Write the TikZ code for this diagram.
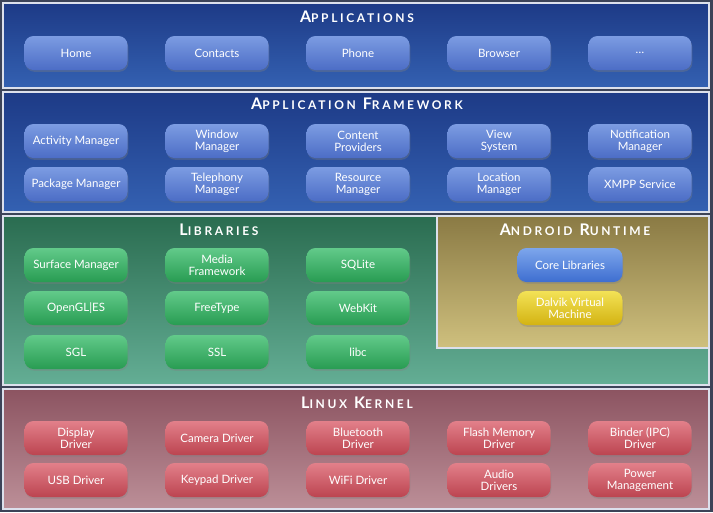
\documentclass[tikz,border=0pt]{standalone}
\usepackage{fontspec}
\setmainfont{Lato}
\newfontfamily\capsfont[LetterSpace=22]{Lato}
\usetikzlibrary{shadows}
\newcommand\layercap[2]{{\fontsize{16}{16}\selectfont #1}{\fontsize{12}{16}\selectfont #2}}

\definecolor{framebg}{HTML}{3C4358}
\definecolor{panelline}{HTML}{DCE0EC}
\definecolor{apptop}{HTML}{1D3A86}
\definecolor{appbot}{HTML}{3461B2}
\definecolor{appboxtop}{HTML}{7C9CE2}
\definecolor{appboxbot}{HTML}{4C6DC6}
\definecolor{libtop}{HTML}{2A6C50}
\definecolor{libbot}{HTML}{64AE95}
\definecolor{libboxtop}{HTML}{62CA8A}
\definecolor{libboxbot}{HTML}{289C52}
\definecolor{rttop}{HTML}{8A7A44}
\definecolor{rtbot}{HTML}{CFC07E}
\definecolor{coretop}{HTML}{7DA6EC}
\definecolor{corebot}{HTML}{3E6ED0}
\definecolor{dvmtop}{HTML}{F3E256}
\definecolor{dvmbot}{HTML}{D3B312}
\definecolor{kerntop}{HTML}{8C5461}
\definecolor{kernbot}{HTML}{BC8F98}
\definecolor{kernboxtop}{HTML}{E2808A}
\definecolor{kernboxbot}{HTML}{BC4450}

\begin{document}
\begin{tikzpicture}[x=1pt,y=-1pt,font=\fontsize{11.5}{12}\selectfont,
  panel/.style={draw=panelline,line width=1.3pt},
  title/.style={text=white,font=\capsfont\bfseries},
  box/.style={rounded corners=9pt,minimum width=103pt,minimum height=34pt,text=white,align=center,
    drop shadow={opacity=0.35,shadow xshift=0.8pt,shadow yshift=-1.8pt}},
  appbox/.style={box,top color=appboxtop,bottom color=appboxbot},
  libbox/.style={box,top color=libboxtop,bottom color=libboxbot},
  kernbox/.style={box,top color=kernboxtop,bottom color=kernboxbot}]

\fill[framebg] (0,0) rectangle (713,512);

% applications
\path[panel,top color=apptop,bottom color=appbot] (3,3) rectangle (709,88);
\node[title] (appsT) at (357,17) {\layercap{A}{PPLICATIONS}};
\node[appbox] (home) at (76,53) {Home};
\node[appbox] (contacts) at (217,53) {Contacts};
\node[appbox] (phone) at (358,53) {Phone};
\node[appbox] (browser) at (499,53) {Browser};
\node[appbox] (more) at (640,53) {\raisebox{-2pt}{\dots}};

% application framework
\path[panel,top color=apptop,bottom color=appbot] (3,92) rectangle (709,212);
\node[title] (fwT) at (357,104) {\layercap{A}{PPLICATION}\hspace{7pt}\layercap{F}{RAMEWORK}};
\node[appbox] (actmgr) at (76,141) {Activity Manager};
\node[appbox] (winmgr) at (217,141) {Window\\Manager};
\node[appbox] (cprov) at (358,141) {Content\\Providers};
\node[appbox] (viewsys) at (499,141) {View\\System};
\node[appbox] (notifmgr) at (640,141) {Notification\\Manager};
\node[appbox] (pkgmgr) at (76,184) {Package Manager};
\node[appbox] (telmgr) at (217,184) {Telephony\\Manager};
\node[appbox] (resmgr) at (358,184) {Resource\\Manager};
\node[appbox] (locmgr) at (499,184) {Location\\Manager};
\node[appbox] (xmpp) at (640,184) {XMPP Service};

% libraries
\path[panel,top color=libtop,bottom color=libbot] (3,216) rectangle (709,385);
\node[title] (libT) at (219,230) {\layercap{L}{IBRARIES}};
\node[libbox] (surfmgr) at (76,265) {Surface Manager};
\node[libbox] (media) at (217,265) {Media\\Framework};
\node[libbox] (sqlite) at (358,265) {SQLite};
\node[libbox] (opengl) at (76,308) {OpenGL|ES};
\node[libbox] (freetype) at (217,308) {FreeType};
\node[libbox] (webkit) at (358,308) {WebKit};
\node[libbox] (sgl) at (76,352) {SGL};
\node[libbox] (ssl) at (217,352) {SSL};
\node[libbox] (libc) at (358,352) {libc};

% android runtime
\path[panel,top color=rttop,bottom color=rtbot] (437,216) rectangle (709,348);
\node[title] (rtT) at (575,230) {\layercap{A}{NDROID}\hspace{7pt}\layercap{R}{UNTIME}};
\node[box,minimum width=105pt,top color=coretop,bottom color=corebot] (corelib) at (570,265) {Core Libraries};
\node[box,minimum width=105pt,top color=dvmtop,bottom color=dvmbot] (dalvik) at (570,308) {Dalvik Virtual\\Machine};

% linux kernel
\path[panel,top color=kerntop,bottom color=kernbot] (3,389) rectangle (709,509);
\node[title] (kernT) at (357,403) {\layercap{L}{INUX}\hspace{7pt}\layercap{K}{ERNEL}};
\node[kernbox] (display) at (76,438) {Display\\Driver};
\node[kernbox] (camera) at (217,438) {Camera Driver};
\node[kernbox] (bluetooth) at (358,438) {Bluetooth\\Driver};
\node[kernbox] (flash) at (499,438) {Flash Memory\\Driver};
\node[kernbox] (binder) at (640,438) {Binder (IPC)\\Driver};
\node[kernbox] (usb) at (76,480) {USB Driver};
\node[kernbox] (keypad) at (217,480) {Keypad Driver};
\node[kernbox] (wifi) at (358,480) {WiFi Driver};
\node[kernbox] (audio) at (499,480) {Audio\\Drivers};
\node[kernbox] (power) at (640,480) {Power\\Management};

\end{tikzpicture}
\end{document}
